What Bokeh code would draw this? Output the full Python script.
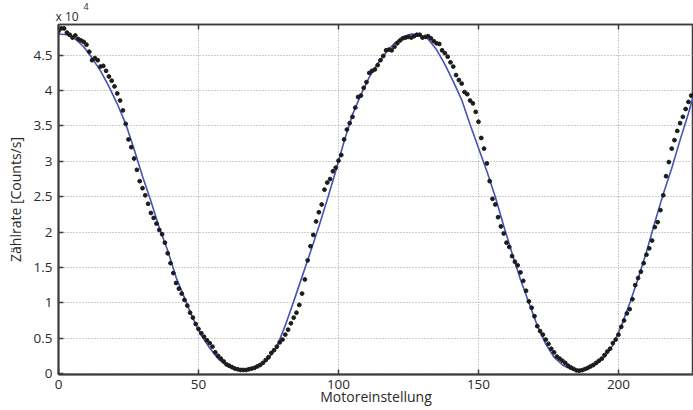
from bokeh.plotting import figure
from bokeh.models import Range1d, LinearAxis, FixedTicker, CustomJSTickFormatter, Title
from bokeh.embed import file_html
from bokeh.resources import INLINE

# measured data (Motoreinstellung, counts/s)
x_data = list(range(0, 227))
y_data = [
    48400, 48800, 48800, 48200, 47900, 47500, 47800, 47300, 47100, 46900,
    46500, 45500, 44300, 44600, 44300, 43400, 43500, 42800, 42000, 41400,
    40600, 39600, 38600, 37200, 35300, 33100, 32000, 30400, 28800, 27200,
    26200, 25200, 24000, 22700, 22000, 21200, 20300, 19700, 18500, 17000,
    15600, 14200, 12800, 12000, 11300, 10400, 9600, 8600, 7900, 7000,
    6300, 5700, 5200, 4700, 4300, 3800, 3000, 2500, 2100, 1700,
    1300, 1100, 900, 700, 600, 500, 500, 500, 600, 700,
    800, 1000, 1200, 1500, 1900, 2300, 2900, 3300, 3800, 4400,
    4800, 5500, 6200, 7100, 7900, 8600, 9700, 11300, 13300, 16000,
    18000, 19600, 21500, 22800, 23900, 26000, 27000, 27500, 28600, 29100,
    30100, 30900, 33100, 34500, 35400, 36300, 37600, 39100, 39300, 40400,
    41200, 42500, 42800, 43000, 43600, 44300, 44900, 45700, 45800, 45700,
    46200, 46700, 47100, 47400, 47500, 47600, 47500, 47700, 47900, 47900,
    47500, 47600, 47700, 47400, 47000, 46700, 46600, 45700, 45300, 44800,
    44000, 43400, 42200, 41500, 41000, 39800, 39500, 38600, 38200, 37000,
    35600, 33300, 31800, 29700, 27200, 24700, 23900, 22100, 20800, 19800,
    18500, 17900, 16600, 15800, 15300, 14300, 13100, 11700, 10200, 9300,
    8100, 6700, 6000, 5500, 4800, 4200, 3500, 3000, 2400, 2100,
    1800, 1500, 1100, 850, 650, 450, 400, 480, 620, 780,
    1000, 1200, 1500, 1800, 2100, 2600, 3100, 3500, 4300, 4800,
    5500, 6600, 7500, 8500, 9100, 10500, 12500, 13500, 14400, 15600,
    16800, 17700, 18800, 20700, 21400, 23100, 25200, 27900, 29900, 31800,
    33000, 34300, 35400, 36300, 37400, 38400, 39300,
]

# fitted curve
x_fit = [0, 3, 6, 9, 12, 15, 18, 21, 24, 27, 30, 33, 36, 39, 42, 45, 48, 51, 54, 57,
         60, 63, 66, 69, 72, 75, 78, 81, 84, 87, 90, 93, 96, 99, 102, 105, 108, 111, 114, 117,
         120, 123, 126, 129, 132, 135, 138, 141, 144, 147, 150, 153, 156, 159, 162, 165, 168, 171, 174, 177,
         180, 183, 186, 189, 192, 195, 198, 201, 204, 207, 210, 213, 216, 219, 222, 225, 227]
y_fit = [48000, 47900, 47300, 46200, 44600, 42800, 40600, 38100, 35300, 31700,
         27900, 24400, 20600, 17400, 13600, 10700, 7800, 5400, 3600, 2100,
         1100, 600, 400, 600, 1100, 2100, 3800, 6800, 10200, 13700,
         17200, 20800, 24600, 28600, 32800, 36600, 39400, 41900, 43800, 45400,
         46700, 47600, 48000, 47900, 47300, 45800, 43700, 41300, 38700, 35200,
         31900, 28600, 25000, 20900, 17000, 13300, 10000, 6800, 4200, 2300,
         1200, 600, 400, 700, 1300, 2300, 4000, 6700, 9900, 13400,
         17200, 21400, 25400, 29000, 33000, 36800, 39600]

x_ticks = [0, 50, 100, 150, 200]
y_ticks = [0, 5000, 10000, 15000, 20000, 25000, 30000, 35000, 40000, 45000]

FONT = "Open Sans"
TXT = "#2a2a2a"
AX = "#3c3c3c"
X0, X1 = 0, 226.8
Y0, Y1 = -140, 49350

p = figure(width=693, height=410, output_backend="svg", toolbar_location=None,
           x_range=Range1d(X0, X1), y_range=Range1d(Y0, Y1),
           min_border_left=58, min_border_right=0, min_border_top=24, min_border_bottom=36,
           x_axis_label="Motoreinstellung", y_axis_label="Zählrate [Counts/s]")
p.background_fill_color = "white"
p.border_fill_color = "white"
p.outline_line_color = AX
p.outline_line_width = 1.5

for ax in (p.xaxis[0], p.yaxis[0]):
    ax.major_tick_in = 5
    ax.major_tick_out = 0
    ax.minor_tick_line_color = None
    ax.axis_line_color = AX
    ax.axis_line_width = 2
    ax.major_tick_line_color = AX
    ax.major_tick_line_width = 1.5
    ax.major_label_text_font = FONT
    ax.major_label_text_font_size = "13.5px"
    ax.major_label_text_color = TXT
    ax.axis_label_text_font = FONT
    ax.axis_label_text_font_size = "14px"
    ax.axis_label_text_font_style = "normal"
    ax.axis_label_text_color = TXT

p.xaxis[0].ticker = FixedTicker(ticks=x_ticks)
p.yaxis[0].ticker = FixedTicker(ticks=y_ticks)
p.yaxis[0].formatter = CustomJSTickFormatter(code="return (tick/10000).toString();")
p.xaxis[0].major_label_standoff = 5
p.xaxis[0].axis_label_standoff = -5
p.yaxis[0].major_label_standoff = 6
p.yaxis[0].axis_label_standoff = 6

top = LinearAxis(ticker=FixedTicker(ticks=x_ticks), major_tick_in=5, major_tick_out=0,
                 minor_tick_line_color=None, axis_line_color=AX, axis_line_width=1.5,
                 major_tick_line_color=AX, major_tick_line_width=1.5,
                 formatter=CustomJSTickFormatter(code="return '';"),
                 major_label_standoff=0)

t_base = Title(text="x 10", align="left", offset=-3, standoff=0,
               text_font=FONT, text_font_size="12px", text_color=TXT,
               text_font_style="normal")
t_exp = Title(text="4", align="left", offset=25, standoff=-9,
              text_font=FONT, text_font_size="9px", text_color=TXT,
              text_font_style="normal")
p.title = None
p.above = [top, t_base, t_exp]

p.xgrid.ticker = FixedTicker(ticks=x_ticks)
p.ygrid.ticker = FixedTicker(ticks=y_ticks)
for g in (p.xgrid[0], p.ygrid[0]):
    g.grid_line_color = "#9a9a9a"
    g.grid_line_dash = "1 2"
    g.grid_line_width = 1

p.line(x_fit, y_fit, line_color="#4453b5", line_width=1.6)
p.scatter(x_data, y_data, size=3.8, color="#1c1c1c")

open("out.html", "w").write(file_html(p, INLINE))
